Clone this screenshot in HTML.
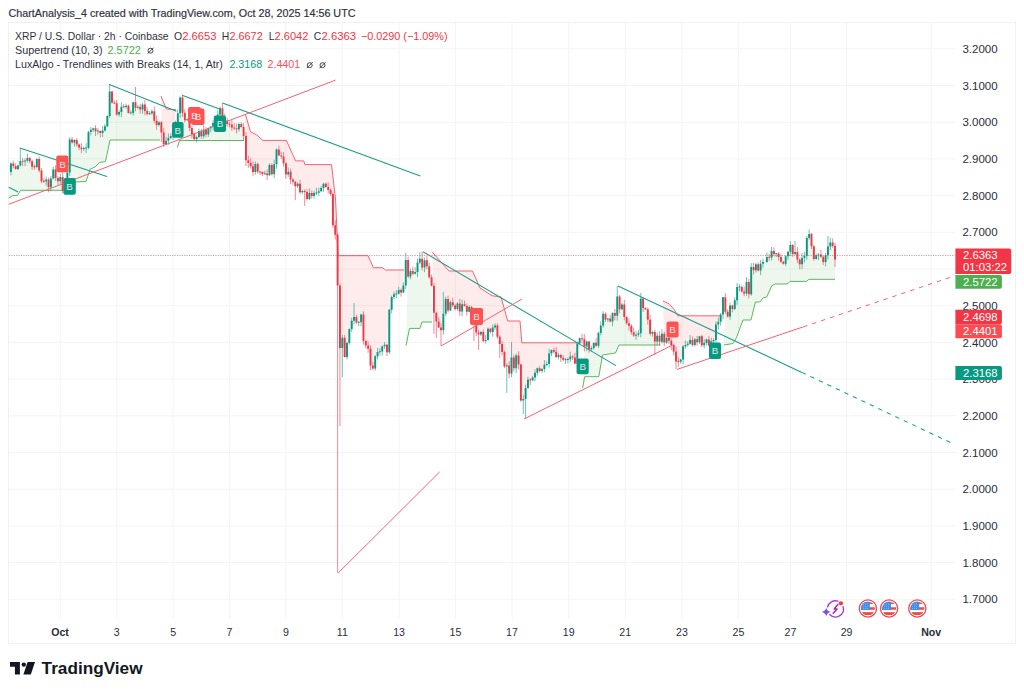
<!DOCTYPE html><html><head><meta charset="utf-8"><style>html,body{margin:0;padding:0;background:#fff;width:1024px;height:694px;overflow:hidden}svg{position:absolute;left:0;top:0}text{font-family:"Liberation Sans",sans-serif}.d{stroke:currentColor;stroke-width:0.18}</style></head><body>
<svg width="1024" height="694" viewBox="0 0 1024 694">
<text class="d" color="#2f323c" x="8.5" y="17.2" font-size="10.4" fill="#2f323c" textLength="347" lengthAdjust="spacingAndGlyphs">ChartAnalysis_4 created with TradingView.com, Oct 28, 2025 14:56 UTC</text>
<rect x="8.5" y="22.5" width="1007" height="621" fill="none" stroke="#eff0f3" stroke-width="1"/>
<path d="M9 48.8H955.5 M9 85.5H955.5 M9 122.2H955.5 M9 158.9H955.5 M9 195.6H955.5 M9 232.3H955.5 M9 269.0H955.5 M9 305.7H955.5 M9 342.4H955.5 M9 379.1H955.5 M9 415.8H955.5 M9 452.5H955.5 M9 489.2H955.5 M9 525.9H955.5 M9 562.6H955.5 M9 599.3H955.5 M60.3 23V618.5 M116.7 23V618.5 M173.1 23V618.5 M229.5 23V618.5 M285.9 23V618.5 M342.3 23V618.5 M399.1 23V618.5 M455.5 23V618.5 M512.0 23V618.5 M568.7 23V618.5 M625.2 23V618.5 M682.0 23V618.5 M738.5 23V618.5 M790.4 23V618.5 M846.6 23V618.5 M931.2 23V618.5" stroke="#f3f4f6" stroke-width="1" fill="none"/>
<polygon points="8.7,198.0 12.7,195.6 17.4,195.6 20.6,190.3 72.6,190.3 75.5,182.0 86.0,181.5 90.3,169.0 95.0,167.0 99.5,162.5 105.5,161.5 110.0,140.0 160.0,140.0 159.0,123.7 156.6,122.9 154.3,115.9 151.9,112.2 149.6,113.7 147.2,112.6 144.9,107.7 142.5,107.0 140.2,108.2 137.8,107.3 135.5,105.1 133.1,107.6 130.8,112.9 128.4,109.4 126.1,106.3 123.7,106.8 121.4,109.4 119.0,113.3 116.7,108.9 114.3,102.9 112.0,97.0 109.6,103.8 107.3,121.1 104.9,128.3 102.6,131.7 100.2,131.9 97.9,131.0 95.5,129.7 93.2,129.0 90.8,130.9 88.5,139.9 86.1,147.9 83.8,148.5 81.4,148.3 79.1,146.0 76.7,142.2 74.4,141.3 72.0,141.1 69.7,156.0 67.3,178.5 65.0,187.6 62.6,183.9 60.3,179.2 57.9,179.6 55.6,173.6 53.2,173.9 50.9,182.9 48.5,183.4 46.2,180.4 43.8,181.3 41.5,175.9 39.1,164.8 36.8,162.9 34.4,166.8 32.1,164.0 29.7,159.6 27.4,159.3 25.0,161.0 22.7,161.2 20.3,163.2 18.0,167.2 15.6,167.6 13.3,164.8 10.9,167.8" fill="rgba(76,175,80,0.10)"/>
<polygon points="161.0,96.0 166.3,109.0 176.0,109.7 175.4,126.9 173.1,133.3 170.7,137.0 168.4,139.4 166.0,142.5 163.7,138.3 161.3,127.3" fill="rgba(242,54,69,0.10)"/>
<polygon points="177.4,147.5 179.5,140.5 244.0,140.5 243.6,131.4 241.2,125.4 238.9,126.5 236.5,128.8 234.2,127.9 231.8,125.9 229.5,124.3 227.1,122.3 224.8,119.4 222.4,113.3 220.1,111.3 217.7,117.4 215.4,121.6 213.0,124.7 210.7,127.4 208.3,131.3 206.0,132.1 203.6,133.0 201.3,133.6 198.9,134.0 196.6,138.0 194.2,136.5 191.9,131.0 189.5,123.7 187.2,119.8 184.8,116.5 182.5,105.2 180.1,105.4 177.8,118.1" fill="rgba(76,175,80,0.10)"/>
<polygon points="245.4,114.3 250.5,131.8 256.7,134.9 262.8,140.4 286.4,140.4 295.6,160.9 303.8,160.9 304.9,164.6 331.5,164.6 335.6,200.0 338.0,255.7 368.0,255.7 373.4,267.7 382.5,267.7 385.5,270.0 404.0,270.0 403.4,289.0 401.1,291.4 398.7,291.9 396.4,294.0 394.0,295.7 391.7,303.4 389.3,330.9 387.0,348.5 384.6,345.5 382.3,348.8 379.9,351.8 377.6,354.1 375.2,362.3 372.9,367.0 370.5,357.1 368.2,347.1 365.8,343.3 363.5,327.8 361.1,318.5 358.8,322.3 356.4,319.8 354.1,319.0 351.7,325.0 349.4,336.0 347.0,350.0 344.7,347.4 342.3,342.8 340.0,316.7 337.6,260.1 335.2,230.0 332.9,209.6 330.5,192.0 328.2,188.5 325.8,185.3 323.5,185.8 321.1,189.6 318.8,192.0 316.4,193.0 314.1,194.5 311.7,194.4 309.4,196.0 307.0,195.4 304.7,191.5 302.3,191.6 300.0,188.0 297.6,184.9 295.3,184.0 292.9,180.6 290.6,175.5 288.2,173.1 285.9,168.9 283.5,159.9 281.2,156.0 278.8,152.5 276.5,156.8 274.1,169.2 271.8,169.6 269.4,170.1 267.1,174.3 264.7,173.7 262.4,173.1 260.0,171.9 257.7,167.8 255.3,167.9 253.0,169.1 250.6,164.7 248.3,161.6 245.9,148.0" fill="rgba(242,54,69,0.10)"/>
<polygon points="406.0,345.7 409.5,328.4 420.0,328.4 422.0,322.0 432.0,322.0 431.6,281.5 429.3,271.8 426.9,263.3 424.6,263.8 422.2,263.1 419.9,260.7 417.5,267.3 415.2,272.9 412.8,272.4 410.5,273.8 408.1,268.3" fill="rgba(76,175,80,0.10)"/>
<polygon points="432.0,251.7 449.0,271.0 472.5,271.0 480.0,288.0 492.0,295.7 501.0,297.0 507.7,321.0 520.0,321.0 521.8,342.8 579.6,342.8 577.3,353.5 575.0,360.5 572.6,357.0 570.3,357.9 567.9,359.5 565.6,359.7 563.2,358.8 560.9,356.5 558.5,356.0 556.2,354.3 553.8,350.8 551.5,351.7 549.1,358.7 546.8,364.4 544.4,366.9 542.1,369.9 539.7,369.6 537.4,370.5 535.0,375.2 532.7,378.9 530.3,380.0 528.0,383.9 525.6,393.5 523.3,399.7 520.9,382.6 518.6,360.1 516.2,361.9 513.9,362.8 511.5,365.5 509.2,369.5 506.8,365.9 504.5,359.2 502.1,347.9 499.8,340.4 497.4,331.2 495.1,326.6 492.7,329.9 490.4,330.5 488.0,334.4 485.7,340.5 483.3,336.5 481.0,333.3 478.6,333.6 476.3,326.8 473.9,317.5 471.6,310.5 469.2,309.3 466.9,308.9 464.5,305.1 462.2,308.0 459.8,307.5 457.5,306.2 455.1,307.1 452.8,303.8 450.4,306.3 448.1,304.6 445.7,306.3 443.4,322.0 441.0,328.9 438.7,324.5 436.3,317.1 434.0,299.2" fill="rgba(242,54,69,0.10)"/>
<polygon points="582.7,387.8 584.7,376.7 598.8,376.7 602.5,355.0 615.5,353.0 619.0,345.0 660.5,345.0 659.6,338.7 657.2,338.6 654.9,336.9 652.5,333.0 650.2,326.8 647.8,314.5 645.5,308.7 643.1,303.4 640.8,315.9 638.4,334.0 636.1,335.2 633.7,334.0 631.4,329.1 629.0,324.5 626.7,320.1 624.3,310.7 622.0,306.9 619.6,303.0 617.3,306.2 614.9,314.4 612.6,317.3 610.2,320.1 607.9,319.1 605.5,316.7 603.2,319.6 600.8,329.2 598.5,339.4 596.1,344.3 593.8,345.3 591.4,348.6 589.1,345.5 586.7,344.1 584.4,342.8" fill="rgba(76,175,80,0.10)"/>
<polygon points="663.0,301.0 669.0,303.7 674.3,309.8 677.8,315.8 721.0,315.8 720.7,318.1 718.3,323.2 716.0,332.3 713.6,340.6 711.3,343.3 708.9,342.4 706.6,341.2 704.2,344.2 701.9,340.8 699.5,339.3 697.2,340.7 694.8,342.1 692.5,342.5 690.1,341.8 687.8,344.4 685.4,345.8 683.1,353.0 680.7,360.7 678.4,361.6 676.0,356.4 673.7,348.2 671.3,342.9 669.0,339.5 666.6,340.2 664.3,338.0" fill="rgba(242,54,69,0.10)"/>
<polygon points="724.0,345.0 733.0,343.5 736.5,337.5 743.0,320.0 751.0,320.0 755.4,302.0 759.8,302.0 763.2,297.8 766.7,297.0 771.8,285.7 775.3,284.0 787.4,284.0 790.0,281.4 806.4,281.4 809.0,279.3 835.0,279.3 835.0,252.6 832.6,244.2 830.3,244.5 827.9,250.8 825.6,258.5 823.2,259.4 820.9,255.6 818.5,254.9 816.2,257.2 813.8,252.7 811.5,240.2 809.1,236.1 806.8,247.0 804.4,256.8 802.1,261.0 799.7,261.9 797.4,255.6 795.0,253.0 792.7,249.5 790.3,248.3 788.0,254.0 785.6,260.0 783.3,262.7 780.9,259.4 778.6,255.2 776.2,253.7 773.9,252.4 771.5,254.2 769.2,257.2 766.8,259.4 763.0,262.8 760.6,267.1 758.3,267.4 755.9,267.3 753.6,268.7 751.2,280.7 748.9,288.2 746.5,287.8 744.2,292.5 741.8,289.2 739.5,287.0 737.1,293.7 734.8,304.6 732.4,307.3 730.1,311.0 727.7,314.1 725.4,304.5" fill="rgba(76,175,80,0.10)"/>
<polyline points="8.7,198.0 12.7,195.6 17.4,195.6 20.6,190.3 72.6,190.3 75.5,182.0 86.0,181.5 90.3,169.0 95.0,167.0 99.5,162.5 105.5,161.5 110.0,140.0 160.0,140.0" fill="none" stroke="#5cb860" stroke-width="1"/>
<polyline points="161.0,96.0 166.3,109.0 176.0,109.7" fill="none" stroke="#f5636f" stroke-width="1"/>
<polyline points="177.4,147.5 179.5,140.5 244.0,140.5" fill="none" stroke="#5cb860" stroke-width="1"/>
<polyline points="245.4,114.3 250.5,131.8 256.7,134.9 262.8,140.4 286.4,140.4 295.6,160.9 303.8,160.9 304.9,164.6 331.5,164.6 335.6,200.0 338.0,255.7 368.0,255.7 373.4,267.7 382.5,267.7 385.5,270.0 404.0,270.0" fill="none" stroke="#f5636f" stroke-width="1"/>
<polyline points="406.0,345.7 409.5,328.4 420.0,328.4 422.0,322.0 432.0,322.0" fill="none" stroke="#5cb860" stroke-width="1"/>
<polyline points="432.0,251.7 449.0,271.0 472.5,271.0 480.0,288.0 492.0,295.7 501.0,297.0 507.7,321.0 520.0,321.0 521.8,342.8 579.6,342.8" fill="none" stroke="#f5636f" stroke-width="1"/>
<polyline points="582.7,387.8 584.7,376.7 598.8,376.7 602.5,355.0 615.5,353.0 619.0,345.0 660.5,345.0" fill="none" stroke="#5cb860" stroke-width="1"/>
<polyline points="663.0,301.0 669.0,303.7 674.3,309.8 677.8,315.8 721.0,315.8" fill="none" stroke="#f5636f" stroke-width="1"/>
<polyline points="724.0,345.0 733.0,343.5 736.5,337.5 743.0,320.0 751.0,320.0 755.4,302.0 759.8,302.0 763.2,297.8 766.7,297.0 771.8,285.7 775.3,284.0 787.4,284.0 790.0,281.4 806.4,281.4 809.0,279.3 835.0,279.3" fill="none" stroke="#5cb860" stroke-width="1"/>
<path d="M13.30 160.7V168.2 M15.65 163.3V169.7 M22.70 157.7V166.1 M29.75 156.9V163.2 M32.10 160.0V169.8 M34.45 164.5V169.9 M39.15 156.5V172.5 M41.50 168.1V183.1 M43.85 177.6V183.0 M48.55 177.6V192.3 M55.60 165.4V181.0 M57.95 176.0V185.0 M62.65 172.3V193.4 M72.05 137.0V143.8 M76.75 138.3V146.7 M79.10 143.6V150.2 M81.45 143.2V153.1 M95.55 125.2V136.0 M100.25 130.2V137.5 M112.00 91.1V103.7 M114.35 100.3V103.9 M116.70 100.0V115.7 M123.75 104.1V107.8 M128.45 104.5V113.6 M135.50 87.0V111.4 M140.20 103.8V113.7 M144.90 100.1V115.2 M147.25 107.2V115.6 M154.30 106.4V123.2 M156.65 115.7V129.8 M161.35 120.9V142.0 M163.70 128.1V146.8 M182.50 95.5V117.0 M184.85 109.3V122.2 M189.55 115.9V131.0 M191.90 125.7V138.4 M194.25 132.5V140.7 M201.30 128.9V138.9 M206.00 127.0V137.3 M222.45 103.0V121.4 M224.80 113.7V123.0 M227.15 117.8V126.8 M229.50 121.5V127.4 M231.85 119.7V131.0 M234.20 122.6V130.1 M236.55 123.7V133.5 M241.25 122.3V127.7 M243.60 122.9V140.5 M245.95 132.2V166.0 M248.30 155.7V167.9 M250.65 158.3V168.6 M253.00 161.4V176.1 M257.70 162.5V173.7 M260.05 171.2V175.1 M262.40 171.5V176.1 M267.10 169.3V180.1 M271.80 163.3V175.3 M278.85 145.8V156.3 M281.20 151.8V159.0 M283.55 151.9V166.6 M285.90 162.4V178.9 M290.60 168.7V184.0 M292.95 178.3V184.7 M295.30 180.9V200.0 M300.00 179.8V194.0 M304.70 189.4V206.0 M307.05 188.9V200.4 M311.75 190.5V198.6 M325.85 182.4V187.8 M328.20 182.5V193.5 M330.55 188.4V195.8 M332.90 192.7V227.7 M335.25 220.4V239.6 M337.60 233.1V573.0 M339.95 283.3V426.0 M344.65 334.9V357.6 M356.40 314.9V324.4 M363.45 311.3V344.7 M365.80 339.8V348.5 M368.15 341.4V352.8 M370.50 345.5V370.0 M372.85 361.8V370.0 M386.95 344.0V356.0 M401.05 288.5V296.5 M408.10 256.5V278.4 M412.80 266.5V275.2 M422.20 251.7V270.5 M426.90 256.0V269.1 M429.25 262.7V278.8 M431.60 274.5V286.4 M433.95 283.1V334.0 M436.30 311.5V338.0 M438.65 317.3V328.0 M441.00 323.2V346.0 M448.05 295.7V312.5 M452.75 297.9V307.2 M455.10 303.8V310.5 M459.80 299.0V315.8 M464.50 300.6V306.7 M466.85 303.4V315.7 M471.55 305.8V316.7 M473.90 312.2V341.0 M476.25 319.4V336.0 M478.60 329.5V350.0 M483.30 329.3V342.4 M490.35 327.8V333.7 M497.40 323.3V338.8 M499.75 335.1V358.0 M502.10 341.2V355.3 M504.45 350.5V368.2 M509.15 361.1V378.0 M513.85 354.7V371.3 M518.55 351.3V369.5 M520.90 363.6V401.8 M530.30 378.2V385.0 M539.70 366.0V372.5 M553.80 347.6V353.4 M556.15 347.0V358.4 M560.85 353.7V361.9 M563.20 355.1V361.2 M572.60 354.9V360.0 M574.95 352.8V364.6 M582.00 333.8V343.5 M584.35 334.1V351.3 M589.05 341.0V352.8 M596.10 338.0V346.8 M605.50 312.4V321.7 M610.20 314.7V322.3 M614.90 309.1V320.3 M619.60 295.0V313.0 M624.30 299.8V320.3 M626.65 316.3V324.8 M629.00 318.5V330.6 M631.35 324.1V334.8 M633.70 327.7V337.0 M643.10 297.2V312.0 M645.45 307.3V309.9 M647.80 307.3V324.7 M650.15 314.9V335.5 M654.85 329.6V355.0 M659.55 331.3V345.2 M664.25 331.5V346.2 M668.95 333.6V343.9 M671.30 338.5V350.0 M673.65 343.5V355.5 M676.00 346.4V369.0 M678.35 357.2V367.0 M692.45 336.6V346.6 M697.15 336.0V345.7 M701.85 335.0V347.2 M708.90 336.1V346.3 M725.35 293.1V314.0 M727.70 309.1V317.7 M732.40 304.6V312.3 M741.80 285.5V292.5 M744.15 286.6V296.3 M748.85 278.7V298.5 M753.55 262.8V274.5 M758.25 262.1V271.6 M769.20 253.9V260.8 M773.90 247.5V256.4 M778.60 252.0V260.8 M780.95 254.3V263.1 M783.30 260.8V264.7 M792.70 244.1V256.8 M797.40 246.9V263.2 M799.75 258.0V269.3 M811.50 232.9V249.1 M813.85 244.9V260.7 M820.90 249.9V258.0 M823.25 255.7V265.0 M832.65 238.4V247.6 M835.00 242.8V267.0" stroke="#f23645" stroke-width="0.8" stroke-opacity="0.75" fill="none"/>
<path d="M10.95 162.4V175.4 M18.00 164.6V170.0 M20.35 148.0V166.5 M25.05 158.4V166.2 M27.40 153.6V162.5 M36.80 158.2V168.3 M46.20 176.5V185.8 M50.90 176.0V191.2 M53.25 166.7V179.0 M60.30 174.0V183.9 M65.00 183.7V194.4 M67.35 167.5V188.7 M69.70 137.3V175.9 M74.40 139.2V146.5 M83.80 146.4V151.2 M86.15 143.2V153.0 M88.50 130.8V149.2 M90.85 127.1V135.3 M93.20 127.7V132.1 M97.90 128.1V134.5 M102.60 126.0V137.1 M104.95 123.9V131.4 M107.30 115.3V127.0 M109.65 84.0V118.1 M119.05 110.1V116.7 M121.40 102.4V117.1 M126.10 103.7V108.6 M130.80 110.0V114.2 M133.15 101.7V115.7 M137.85 104.6V109.1 M142.55 102.9V113.8 M149.60 111.1V114.7 M151.95 109.4V114.9 M159.00 120.8V126.6 M166.05 136.7V145.1 M168.40 133.5V144.8 M170.75 133.3V139.3 M173.10 128.8V140.0 M175.45 120.7V133.1 M177.80 109.5V124.2 M180.15 96.4V117.8 M187.20 118.3V120.7 M196.60 135.4V142.2 M198.95 128.6V138.0 M203.65 125.2V138.7 M208.35 127.6V136.9 M210.70 126.0V132.3 M213.05 120.3V130.3 M215.40 118.3V125.8 M217.75 110.4V121.3 M220.10 106.6V116.2 M238.90 122.8V131.7 M255.35 161.4V174.7 M264.75 170.6V174.9 M269.45 163.3V175.9 M274.15 159.6V178.4 M276.50 148.3V168.8 M288.25 167.3V177.1 M297.65 182.3V188.1 M302.35 189.8V194.3 M309.40 188.3V200.0 M314.10 190.8V198.7 M316.45 187.9V195.2 M318.80 187.6V196.2 M321.15 185.9V192.0 M323.50 182.9V191.8 M342.30 335.0V377.0 M347.00 342.0V359.4 M349.35 328.5V344.7 M351.70 317.7V332.0 M354.05 303.0V324.5 M358.75 321.1V326.2 M361.10 313.9V326.5 M375.20 355.1V370.6 M377.55 347.9V359.2 M379.90 348.1V355.7 M382.25 345.6V355.5 M384.60 342.1V349.1 M389.30 308.8V353.9 M391.65 295.7V313.5 M394.00 291.6V299.3 M396.35 290.2V298.2 M398.70 286.7V294.6 M403.40 282.4V293.2 M405.75 253.0V289.0 M410.45 268.5V279.2 M415.15 267.3V274.3 M417.50 258.4V276.9 M419.85 252.0V264.1 M424.55 257.4V272.2 M443.35 292.0V334.8 M445.70 296.7V316.1 M450.40 300.4V311.1 M457.45 302.1V311.0 M462.15 299.7V316.3 M469.20 305.1V312.5 M480.95 330.9V336.0 M485.65 335.0V343.5 M488.00 327.4V340.9 M492.70 324.5V336.6 M495.05 323.2V329.9 M506.80 363.1V393.0 M511.50 342.0V377.3 M516.20 353.4V372.9 M523.25 395.3V414.0 M525.60 384.7V419.0 M527.95 376.7V388.8 M532.65 375.7V381.4 M535.00 369.4V381.2 M537.35 367.5V375.6 M542.05 368.3V372.8 M544.40 360.0V372.3 M546.75 361.3V366.4 M549.10 348.7V367.6 M551.45 349.4V356.3 M558.50 353.1V359.3 M565.55 357.8V363.9 M567.90 357.8V363.6 M570.25 351.6V362.0 M577.30 342.1V368.3 M579.65 337.6V344.4 M586.70 340.3V351.3 M591.40 345.7V351.3 M593.75 342.3V349.7 M598.45 331.5V347.9 M600.80 321.2V335.4 M603.15 311.2V327.6 M607.85 318.0V322.0 M612.55 312.2V326.2 M617.25 286.0V320.6 M621.95 302.7V309.8 M636.05 331.0V339.8 M638.40 330.0V336.8 M640.75 293.0V337.3 M652.50 331.2V336.6 M657.20 332.4V345.2 M661.90 329.4V343.5 M666.60 336.5V344.0 M680.70 358.8V363.7 M683.05 345.1V364.4 M685.40 340.4V348.6 M687.75 341.2V346.8 M690.10 335.1V344.7 M694.80 338.0V346.5 M699.50 335.8V344.2 M704.20 339.0V348.3 M706.55 338.5V345.3 M711.25 337.6V347.7 M713.60 338.2V346.0 M715.95 321.6V342.2 M718.30 317.4V329.6 M720.65 313.1V325.6 M723.00 296.8V319.0 M730.05 302.6V319.9 M734.75 297.5V310.2 M737.10 283.0V304.9 M739.45 284.2V291.3 M746.50 277.3V295.9 M751.20 263.1V295.8 M755.90 262.8V272.5 M760.60 260.0V275.1 M762.95 258.8V267.6 M766.85 252.6V262.9 M771.55 247.0V260.6 M776.25 253.0V257.2 M785.65 255.4V266.1 M788.00 251.1V259.7 M790.35 241.1V255.8 M795.05 241.0V255.2 M802.10 252.9V269.0 M804.45 251.8V262.4 M806.80 236.0V259.8 M809.15 229.5V239.8 M816.20 253.4V259.7 M818.55 253.2V260.0 M825.60 252.9V266.5 M827.95 236.0V259.5 M830.30 237.5V250.0" stroke="#089981" stroke-width="0.8" stroke-opacity="0.75" fill="none"/>
<path d="M13.30 163.6V166.1 M15.65 166.1V169.1 M22.70 160.7V161.7 M29.75 157.9V161.3 M32.10 161.3V166.7 M34.45 166.3V167.3 M39.15 158.9V170.6 M41.50 170.6V181.3 M43.85 180.8V181.8 M48.55 179.4V187.3 M55.60 169.4V177.9 M57.95 177.9V181.3 M62.65 177.1V190.8 M72.05 139.5V142.6 M76.75 140.0V144.4 M79.10 144.4V147.6 M81.45 147.6V148.9 M95.55 128.3V131.2 M100.25 130.9V133.0 M112.00 91.6V102.5 M114.35 102.4V103.4 M116.70 103.3V114.5 M123.75 106.3V107.3 M128.45 105.7V113.0 M135.50 102.3V107.8 M140.20 106.7V109.6 M144.90 104.4V111.1 M147.25 111.1V114.1 M154.30 111.2V120.7 M156.65 120.7V125.0 M161.35 122.3V132.4 M163.70 132.4V144.2 M182.50 97.6V112.8 M184.85 112.8V120.2 M189.55 119.4V128.1 M191.90 128.1V134.0 M194.25 134.0V139.1 M201.30 131.0V136.3 M206.00 129.8V134.4 M222.45 108.2V118.3 M224.80 118.3V120.5 M227.15 120.5V124.0 M229.50 123.8V124.8 M231.85 124.5V127.4 M234.20 127.4V128.5 M236.55 128.3V129.3 M241.25 123.9V126.9 M243.60 126.9V135.9 M245.95 135.9V160.2 M248.30 160.2V163.1 M250.65 163.1V166.3 M253.00 166.3V171.9 M257.70 163.9V171.8 M260.05 171.4V172.4 M262.40 172.1V174.1 M267.10 173.4V175.2 M271.80 165.0V174.2 M278.85 149.5V155.4 M281.20 155.4V156.6 M283.55 156.6V163.3 M285.90 163.3V174.5 M290.60 171.7V179.4 M292.95 179.4V181.8 M295.30 181.8V186.2 M300.00 183.7V192.2 M304.70 191.0V192.0 M307.05 191.9V199.0 M311.75 193.0V195.9 M325.85 183.7V187.0 M328.20 187.0V190.0 M330.55 190.0V193.9 M332.90 193.9V225.2 M335.25 225.2V234.7 M337.60 234.7V285.4 M339.95 285.4V347.9 M344.65 337.7V357.1 M356.40 317.1V322.4 M363.45 314.6V340.9 M365.80 340.9V345.6 M368.15 345.6V348.7 M370.50 348.7V365.4 M372.85 365.4V368.5 M386.95 344.8V352.2 M401.05 290.1V292.6 M408.10 260.0V276.6 M412.80 271.1V273.8 M422.20 258.8V267.4 M426.90 260.2V266.3 M429.25 266.3V277.2 M431.60 277.2V285.8 M433.95 285.8V312.7 M436.30 312.7V321.6 M438.65 321.6V327.5 M441.00 327.5V330.3 M448.05 298.9V310.4 M452.75 302.2V305.4 M455.10 305.4V308.9 M459.80 303.5V311.6 M464.50 304.3V305.9 M466.85 305.9V311.8 M471.55 306.9V314.0 M473.90 314.0V321.0 M476.25 321.0V332.5 M478.60 332.5V334.6 M483.30 332.1V341.0 M490.35 328.8V332.1 M497.40 325.5V336.8 M499.75 336.8V343.9 M502.10 343.9V352.0 M504.45 352.0V366.4 M509.15 365.4V373.6 M513.85 357.4V368.2 M518.55 355.6V364.6 M520.90 364.6V400.6 M530.30 379.5V380.5 M539.70 368.3V370.9 M553.80 350.0V351.7 M556.15 351.7V356.9 M560.85 355.1V357.8 M563.20 357.8V359.8 M572.60 356.4V357.6 M574.95 357.6V363.5 M582.00 338.2V339.2 M584.35 339.0V346.6 M589.05 341.6V349.3 M596.10 342.8V345.8 M605.50 313.8V319.6 M610.20 318.6V321.6 M614.90 313.0V315.8 M619.60 296.6V309.3 M624.30 304.4V316.9 M626.65 316.9V323.3 M629.00 323.3V325.8 M631.35 325.8V332.3 M633.70 332.3V335.6 M643.10 298.6V308.1 M645.45 308.1V309.2 M647.80 309.2V319.8 M650.15 319.8V333.8 M654.85 332.1V341.6 M659.55 335.7V341.7 M664.25 333.7V342.4 M668.95 338.1V340.8 M671.30 340.8V345.0 M673.65 345.0V351.4 M676.00 351.4V361.4 M678.35 361.1V362.1 M692.45 339.9V345.1 M697.15 339.2V342.3 M701.85 336.3V345.3 M708.90 339.4V345.4 M725.35 297.3V311.7 M727.70 311.7V316.5 M732.40 305.5V309.0 M741.80 286.9V291.5 M744.15 291.5V293.6 M748.85 282.0V294.3 M753.55 267.1V270.2 M758.25 264.3V270.5 M769.20 256.7V257.7 M773.90 250.9V253.9 M778.60 253.6V256.9 M780.95 256.9V261.8 M783.30 261.8V263.7 M792.70 244.9V254.1 M797.40 251.9V259.4 M799.75 259.4V264.3 M811.50 234.1V246.3 M813.85 246.3V259.0 M820.90 254.5V256.8 M823.25 256.8V262.1 M832.65 242.4V245.9 M835.00 245.9V259.4" stroke="#f23645" stroke-width="1.9" fill="none"/>
<path d="M10.95 163.6V172.0 M18.00 165.4V169.1 M20.35 161.0V165.4 M25.05 160.5V161.5 M27.40 157.9V160.7 M36.80 158.9V166.9 M46.20 179.4V181.4 M50.90 178.4V187.3 M53.25 169.4V178.4 M60.30 177.1V181.3 M65.00 184.5V190.8 M67.35 172.4V184.5 M69.70 139.5V172.4 M74.40 140.0V142.6 M83.80 148.0V149.0 M86.15 147.4V148.4 M88.50 132.1V147.7 M90.85 129.8V132.1 M93.20 128.3V129.8 M97.90 130.5V131.5 M102.60 130.4V133.0 M104.95 126.2V130.4 M107.30 116.1V126.2 M109.65 91.6V116.1 M119.05 112.1V114.5 M121.40 106.7V112.1 M126.10 105.7V106.9 M130.80 112.4V113.4 M133.15 102.3V112.9 M137.85 106.7V107.8 M142.55 104.4V109.6 M149.60 113.2V114.2 M151.95 111.2V113.2 M159.00 122.3V125.0 M166.05 140.8V144.2 M168.40 138.0V140.8 M170.75 135.9V138.0 M173.10 130.8V135.9 M175.45 123.0V130.8 M177.80 113.2V123.0 M180.15 97.6V113.2 M187.20 119.3V120.3 M196.60 136.9V139.1 M198.95 131.0V136.9 M203.65 129.8V136.3 M208.35 128.2V134.4 M210.70 126.5V128.2 M213.05 123.0V126.5 M215.40 120.3V123.0 M217.75 114.4V120.3 M220.10 108.2V114.4 M238.90 123.9V129.2 M255.35 163.9V171.9 M264.75 173.2V174.2 M269.45 165.0V175.2 M274.15 164.2V174.2 M276.50 149.5V164.2 M288.25 171.7V174.5 M297.65 183.7V186.2 M302.35 191.1V192.2 M309.40 193.0V199.0 M314.10 193.1V195.9 M316.45 192.5V193.5 M318.80 191.3V192.8 M321.15 187.9V191.3 M323.50 183.7V187.9 M342.30 337.7V347.9 M347.00 342.9V357.1 M349.35 329.1V342.9 M351.70 320.8V329.1 M354.05 317.1V320.8 M358.75 321.8V322.8 M361.10 314.6V322.3 M375.20 356.2V368.5 M377.55 352.1V356.2 M379.90 351.3V352.3 M382.25 346.2V351.4 M384.60 344.8V346.2 M389.30 309.7V352.2 M391.65 297.1V309.7 M394.00 294.3V297.1 M396.35 293.5V294.5 M398.70 290.1V293.7 M403.40 285.4V292.6 M405.75 260.0V285.4 M410.45 271.1V276.6 M415.15 272.0V273.8 M417.50 262.6V272.0 M419.85 258.8V262.6 M424.55 260.2V267.4 M443.35 313.8V330.3 M445.70 298.9V313.8 M450.40 302.2V310.4 M457.45 303.5V308.9 M462.15 304.3V311.6 M469.20 306.9V311.8 M480.95 332.1V334.6 M485.65 340.0V341.0 M488.00 328.8V340.0 M492.70 327.6V332.1 M495.05 325.5V327.6 M506.80 365.4V366.4 M511.50 357.4V373.6 M516.20 355.6V368.2 M523.25 398.9V400.6 M525.60 388.1V398.9 M527.95 379.7V388.1 M532.65 377.5V380.3 M535.00 372.8V377.5 M537.35 368.3V372.8 M542.05 368.9V370.9 M544.40 364.8V368.9 M546.75 363.9V364.9 M549.10 353.5V364.0 M551.45 350.0V353.5 M558.50 355.1V356.9 M565.55 359.2V360.2 M567.90 359.0V360.0 M570.25 356.4V359.3 M577.30 343.6V363.5 M579.65 338.3V343.6 M586.70 341.6V346.6 M591.40 347.9V349.3 M593.75 342.8V347.9 M598.45 333.0V345.8 M600.80 325.4V333.0 M603.15 313.8V325.4 M607.85 318.6V319.6 M612.55 313.0V321.6 M617.25 296.6V315.8 M621.95 304.4V309.3 M636.05 334.7V335.7 M638.40 333.3V334.8 M640.75 298.6V333.3 M652.50 332.1V333.8 M657.20 335.7V341.6 M661.90 333.7V341.7 M666.60 338.1V342.4 M680.70 359.5V361.8 M683.05 346.4V359.5 M685.40 345.1V346.4 M687.75 343.7V345.1 M690.10 339.9V343.7 M694.80 339.2V345.1 M699.50 336.3V342.3 M704.20 343.0V345.3 M706.55 339.4V343.0 M711.25 341.2V345.4 M713.60 340.0V341.2 M715.95 324.6V340.0 M718.30 321.8V324.6 M720.65 314.4V321.8 M723.00 297.3V314.4 M730.05 305.5V316.5 M734.75 300.3V309.0 M737.10 287.1V300.3 M739.45 286.5V287.5 M746.50 282.0V293.6 M751.20 267.1V294.3 M755.90 264.3V270.2 M760.60 263.7V270.5 M762.95 261.9V263.7 M766.85 256.9V261.9 M771.55 250.9V257.5 M776.25 253.2V254.2 M785.65 256.3V263.7 M788.00 251.8V256.3 M790.35 244.9V251.8 M795.05 251.9V254.1 M802.10 257.7V264.3 M804.45 255.9V257.7 M806.80 238.1V255.9 M809.15 234.1V238.1 M816.20 255.3V259.0 M818.55 254.4V255.4 M825.60 255.0V262.1 M827.95 246.6V255.0 M830.30 242.4V246.6" stroke="#089981" stroke-width="1.9" fill="none"/>
<line x1="8.7" y1="187.3" x2="18.2" y2="192" stroke="#1f9c8c" stroke-width="1.05"/>
<line x1="19.8" y1="148" x2="107" y2="176.6" stroke="#1f9c8c" stroke-width="1.05"/>
<line x1="109.4" y1="84.5" x2="176.4" y2="111.2" stroke="#1f9c8c" stroke-width="1.05"/>
<line x1="182" y1="95.3" x2="219.6" y2="109" stroke="#1f9c8c" stroke-width="1.05"/>
<line x1="222.5" y1="103" x2="420.3" y2="175.9" stroke="#1f9c8c" stroke-width="1.05"/>
<line x1="423" y1="251.7" x2="616" y2="365.6" stroke="#1f9c8c" stroke-width="1.05"/>
<line x1="618" y1="286" x2="801.8" y2="372.4" stroke="#1f9c8c" stroke-width="1.05"/>
<line x1="8.7" y1="204.3" x2="335.6" y2="80.1" stroke="#f5636f" stroke-width="1.0"/>
<line x1="441" y1="346" x2="522" y2="299" stroke="#f5636f" stroke-width="1.0"/>
<line x1="338.2" y1="573" x2="439.6" y2="472" stroke="#f5636f" stroke-width="1.0"/>
<line x1="524" y1="419" x2="672.6" y2="345" stroke="#f5636f" stroke-width="1.0"/>
<line x1="677" y1="369.4" x2="803.2" y2="326.9" stroke="#f5636f" stroke-width="1.0"/>
<line x1="801.8" y1="372.4" x2="954.5" y2="444.4" stroke="#1f9c8c" stroke-width="1.05" stroke-dasharray="4.4 5"/>
<line x1="803.2" y1="326.9" x2="954.5" y2="275.9" stroke="#f5636f" stroke-width="1.0" stroke-dasharray="4.4 5"/>
<line x1="9" y1="255.6" x2="955" y2="255.6" stroke="#f23645" stroke-width="0.8" stroke-dasharray="1.1 1.3" opacity="0.85"/>
<rect x="56.3" y="155.5" width="12.2" height="16.8" rx="2" fill="#ff5252"/>
<text x="62.4" y="167.5" font-size="9.8" fill="#fff" fill-opacity="0.86" text-anchor="middle">B</text>
<rect x="63.4" y="178" width="12.4" height="16.8" rx="2" fill="#089981"/>
<text x="69.6" y="190.0" font-size="9.8" fill="#fff" fill-opacity="0.86" text-anchor="middle">B</text>
<rect x="172" y="122" width="11.6" height="15.8" rx="2" fill="#089981"/>
<text x="177.8" y="133.5" font-size="9.8" fill="#fff" fill-opacity="0.86" text-anchor="middle">B</text>
<rect x="188" y="107" width="13" height="16.4" rx="2" fill="#ff5252"/><rect x="191.5" y="108.5" width="13" height="16.4" rx="2" fill="#ff5252"/>
<text x="194.5" y="119.2" font-size="9.8" fill="#fff" fill-opacity="0.86" text-anchor="middle">B</text><text x="198" y="120.4" font-size="9.8" fill="#fff" fill-opacity="0.86" text-anchor="middle">B</text>
<rect x="213.8" y="115.5" width="12.2" height="16.5" rx="2" fill="#089981"/>
<text x="219.9" y="127.35" font-size="9.8" fill="#fff" fill-opacity="0.86" text-anchor="middle">B</text>
<rect x="470" y="308" width="13" height="17" rx="2" fill="#ff5252"/>
<text x="476.5" y="320.1" font-size="9.8" fill="#fff" fill-opacity="0.86" text-anchor="middle">B</text>
<rect x="576.6" y="358.5" width="12.1" height="15.8" rx="2" fill="#089981"/>
<text x="582.65" y="370.0" font-size="9.8" fill="#fff" fill-opacity="0.86" text-anchor="middle">B</text>
<rect x="666.5" y="321.5" width="12.1" height="15.9" rx="2" fill="#ff5252"/>
<text x="672.55" y="333.05" font-size="9.8" fill="#fff" fill-opacity="0.86" text-anchor="middle">B</text>
<rect x="709" y="342.6" width="12" height="16.4" rx="2" fill="#089981"/>
<text x="715.0" y="354.40000000000003" font-size="9.8" fill="#fff" fill-opacity="0.86" text-anchor="middle">B</text>
<text x="15.10" y="39.7" font-size="10.4" fill="#2f323c" textLength="153.50" lengthAdjust="spacingAndGlyphs">XRP / U.S. Dollar · 2h · Coinbase</text>
<text x="173.90" y="39.7" font-size="10.4" fill="#2f323c" textLength="8.20" lengthAdjust="spacingAndGlyphs">O</text>
<text x="182.20" y="39.7" font-size="10.4" fill="#f23645" textLength="34.30" lengthAdjust="spacingAndGlyphs">2.6653</text>
<text x="221.80" y="39.7" font-size="10.4" fill="#2f323c" textLength="7.50" lengthAdjust="spacingAndGlyphs">H</text>
<text x="229.40" y="39.7" font-size="10.4" fill="#f23645" textLength="33.30" lengthAdjust="spacingAndGlyphs">2.6672</text>
<text x="268.70" y="39.7" font-size="10.4" fill="#2f323c" textLength="5.70" lengthAdjust="spacingAndGlyphs">L</text>
<text x="274.50" y="39.7" font-size="10.4" fill="#f23645" textLength="33.90" lengthAdjust="spacingAndGlyphs">2.6042</text>
<text x="313.80" y="39.7" font-size="10.4" fill="#2f323c" textLength="7.50" lengthAdjust="spacingAndGlyphs">C</text>
<text x="321.50" y="39.7" font-size="10.4" fill="#f23645" textLength="34.50" lengthAdjust="spacingAndGlyphs">2.6363</text>
<text x="361.00" y="39.7" font-size="10.4" fill="#f23645" textLength="86.50" lengthAdjust="spacingAndGlyphs">−0.0290 (−1.09%)</text>
<text x="15.10" y="53.7" font-size="10.4" fill="#2f323c" textLength="87.40" lengthAdjust="spacingAndGlyphs">Supertrend (10, 3)</text>
<text x="107.50" y="53.7" font-size="10.4" fill="#4caf50" textLength="33.30" lengthAdjust="spacingAndGlyphs">2.5722</text>
<g stroke="#3a3d45" stroke-width="0.95" fill="none"><circle cx="150.5" cy="50.7" r="2.5"/><path d="M147.5 53.7L153.5 47.7"/></g>
<text x="15.10" y="68.0" font-size="10.4" fill="#2f323c" textLength="207.70" lengthAdjust="spacingAndGlyphs">LuxAlgo - Trendlines with Breaks (14, 1, Atr)</text>
<text x="229.40" y="68.0" font-size="10.4" fill="#089981" textLength="32.70" lengthAdjust="spacingAndGlyphs">2.3168</text>
<text x="267.50" y="68.0" font-size="10.4" fill="#f7525f" textLength="32.70" lengthAdjust="spacingAndGlyphs">2.4401</text>
<g stroke="#3a3d45" stroke-width="0.95" fill="none"><circle cx="309.7" cy="65.2" r="2.5"/><path d="M306.7 68.2L312.7 62.2"/></g>
<g stroke="#3a3d45" stroke-width="0.95" fill="none"><circle cx="322.5" cy="65.2" r="2.5"/><path d="M319.5 68.2L325.5 62.2"/></g>
<text x="962.4" y="52.9" font-size="11.5" fill="#2a2e39">3.2000</text>
<text x="962.4" y="89.6" font-size="11.5" fill="#2a2e39">3.1000</text>
<text x="962.4" y="126.3" font-size="11.5" fill="#2a2e39">3.0000</text>
<text x="962.4" y="163.0" font-size="11.5" fill="#2a2e39">2.9000</text>
<text x="962.4" y="199.7" font-size="11.5" fill="#2a2e39">2.8000</text>
<text x="962.4" y="236.4" font-size="11.5" fill="#2a2e39">2.7000</text>
<text x="962.4" y="273.1" font-size="11.5" fill="#2a2e39">2.6000</text>
<text x="962.4" y="309.8" font-size="11.5" fill="#2a2e39">2.5000</text>
<text x="962.4" y="346.5" font-size="11.5" fill="#2a2e39">2.4000</text>
<text x="962.4" y="383.2" font-size="11.5" fill="#2a2e39">2.3000</text>
<text x="962.4" y="419.9" font-size="11.5" fill="#2a2e39">2.2000</text>
<text x="962.4" y="456.6" font-size="11.5" fill="#2a2e39">2.1000</text>
<text x="962.4" y="493.3" font-size="11.5" fill="#2a2e39">2.0000</text>
<text x="962.4" y="530.0" font-size="11.5" fill="#2a2e39">1.9000</text>
<text x="962.4" y="566.7" font-size="11.5" fill="#2a2e39">1.8000</text>
<text x="962.4" y="603.4" font-size="11.5" fill="#2a2e39">1.7000</text>
<path d="M955.4 248.6H1009.1999999999999q2 0 2 2V272.1q0 2 -2 2H955.4Z" fill="#f23645"/>
<text x="963" y="259.4" font-size="11.3" fill="#fff">2.6363</text>
<text x="963" y="271.2" font-size="11.3" fill="#fff">01:03:22</text>
<path d="M955.4 275H999.9q2 0 2 2V286.8q0 2 -2 2H955.4Z" fill="#4caf50"/>
<text x="963" y="285.9" font-size="11.3" fill="#fff">2.5722</text>
<path d="M955.4 309.8H999.9q2 0 2 2V322.3q0 2 -2 2H955.4Z" fill="#f23645"/>
<text x="963" y="321.05" font-size="11.3" fill="#fff">2.4698</text>
<path d="M955.4 324.3H999.9q2 0 2 2V336.3q0 2 -2 2H955.4Z" fill="#fd4b55"/>
<text x="963" y="335.3" font-size="11.3" fill="#fff">2.4401</text>
<path d="M955.4 366H999.9q2 0 2 2V378q0 2 -2 2H955.4Z" fill="#089981"/>
<text x="963" y="377.0" font-size="11.3" fill="#fff">2.3168</text>
<text x="60" y="636" font-size="10.6" fill="#2a2e39" text-anchor="middle" font-weight="bold">Oct</text>
<text x="116.7" y="636" font-size="10.6" fill="#2a2e39" text-anchor="middle">3</text>
<text x="173.1" y="636" font-size="10.6" fill="#2a2e39" text-anchor="middle">5</text>
<text x="229.5" y="636" font-size="10.6" fill="#2a2e39" text-anchor="middle">7</text>
<text x="285.9" y="636" font-size="10.6" fill="#2a2e39" text-anchor="middle">9</text>
<text x="342.3" y="636" font-size="10.6" fill="#2a2e39" text-anchor="middle">11</text>
<text x="399.1" y="636" font-size="10.6" fill="#2a2e39" text-anchor="middle">13</text>
<text x="455.5" y="636" font-size="10.6" fill="#2a2e39" text-anchor="middle">15</text>
<text x="512" y="636" font-size="10.6" fill="#2a2e39" text-anchor="middle">17</text>
<text x="568.7" y="636" font-size="10.6" fill="#2a2e39" text-anchor="middle">19</text>
<text x="625.2" y="636" font-size="10.6" fill="#2a2e39" text-anchor="middle">21</text>
<text x="682" y="636" font-size="10.6" fill="#2a2e39" text-anchor="middle">23</text>
<text x="738.5" y="636" font-size="10.6" fill="#2a2e39" text-anchor="middle">25</text>
<text x="790.4" y="636" font-size="10.6" fill="#2a2e39" text-anchor="middle">27</text>
<text x="846.6" y="636" font-size="10.6" fill="#2a2e39" text-anchor="middle">29</text>
<text x="931.2" y="636" font-size="10.6" fill="#2a2e39" text-anchor="middle" font-weight="bold">Nov</text>
<circle cx="867.9" cy="608.45" r="8.6" fill="#fff" stroke="#f0474f" stroke-width="1.3"/>
<clipPath id="f867"><circle cx="867.9" cy="608.45" r="7.0"/></clipPath><g clip-path="url(#f867)">
<rect x="860.4" y="602.25" width="15" height="1.8" fill="#ef4a4a"/>
<rect x="860.4" y="607.25" width="15" height="2.5" fill="#ef4a4a"/>
<rect x="860.4" y="612.1500000000001" width="15" height="2.9" fill="#ef4a4a"/>
<rect x="860.4" y="600.95" width="9.4" height="9.1" fill="#3f8fe8"/>
<circle cx="863.3" cy="604.0500000000001" r="0.45" fill="#cfe3fb"/>
<circle cx="863.3" cy="606.1500000000001" r="0.45" fill="#cfe3fb"/>
<circle cx="863.3" cy="608.2500000000001" r="0.45" fill="#cfe3fb"/>
<circle cx="865.3" cy="604.0500000000001" r="0.45" fill="#cfe3fb"/>
<circle cx="865.3" cy="606.1500000000001" r="0.45" fill="#cfe3fb"/>
<circle cx="865.3" cy="608.2500000000001" r="0.45" fill="#cfe3fb"/>
<circle cx="867.3" cy="604.0500000000001" r="0.45" fill="#cfe3fb"/>
<circle cx="867.3" cy="606.1500000000001" r="0.45" fill="#cfe3fb"/>
<circle cx="867.3" cy="608.2500000000001" r="0.45" fill="#cfe3fb"/>
</g>
<circle cx="889.1" cy="608.45" r="8.6" fill="#fff" stroke="#f0474f" stroke-width="1.3"/>
<clipPath id="f889"><circle cx="889.1" cy="608.45" r="7.0"/></clipPath><g clip-path="url(#f889)">
<rect x="881.6" y="602.25" width="15" height="1.8" fill="#ef4a4a"/>
<rect x="881.6" y="607.25" width="15" height="2.5" fill="#ef4a4a"/>
<rect x="881.6" y="612.1500000000001" width="15" height="2.9" fill="#ef4a4a"/>
<rect x="881.6" y="600.95" width="9.4" height="9.1" fill="#3f8fe8"/>
<circle cx="884.5" cy="604.0500000000001" r="0.45" fill="#cfe3fb"/>
<circle cx="884.5" cy="606.1500000000001" r="0.45" fill="#cfe3fb"/>
<circle cx="884.5" cy="608.2500000000001" r="0.45" fill="#cfe3fb"/>
<circle cx="886.5" cy="604.0500000000001" r="0.45" fill="#cfe3fb"/>
<circle cx="886.5" cy="606.1500000000001" r="0.45" fill="#cfe3fb"/>
<circle cx="886.5" cy="608.2500000000001" r="0.45" fill="#cfe3fb"/>
<circle cx="888.5" cy="604.0500000000001" r="0.45" fill="#cfe3fb"/>
<circle cx="888.5" cy="606.1500000000001" r="0.45" fill="#cfe3fb"/>
<circle cx="888.5" cy="608.2500000000001" r="0.45" fill="#cfe3fb"/>
</g>
<circle cx="917.3" cy="608.45" r="8.6" fill="#fff" stroke="#f0474f" stroke-width="1.3"/>
<clipPath id="f917"><circle cx="917.3" cy="608.45" r="7.0"/></clipPath><g clip-path="url(#f917)">
<rect x="909.8" y="602.25" width="15" height="1.8" fill="#ef4a4a"/>
<rect x="909.8" y="607.25" width="15" height="2.5" fill="#ef4a4a"/>
<rect x="909.8" y="612.1500000000001" width="15" height="2.9" fill="#ef4a4a"/>
<rect x="909.8" y="600.95" width="9.4" height="9.1" fill="#3f8fe8"/>
<circle cx="912.6999999999999" cy="604.0500000000001" r="0.45" fill="#cfe3fb"/>
<circle cx="912.6999999999999" cy="606.1500000000001" r="0.45" fill="#cfe3fb"/>
<circle cx="912.6999999999999" cy="608.2500000000001" r="0.45" fill="#cfe3fb"/>
<circle cx="914.6999999999999" cy="604.0500000000001" r="0.45" fill="#cfe3fb"/>
<circle cx="914.6999999999999" cy="606.1500000000001" r="0.45" fill="#cfe3fb"/>
<circle cx="914.6999999999999" cy="608.2500000000001" r="0.45" fill="#cfe3fb"/>
<circle cx="916.6999999999999" cy="604.0500000000001" r="0.45" fill="#cfe3fb"/>
<circle cx="916.6999999999999" cy="606.1500000000001" r="0.45" fill="#cfe3fb"/>
<circle cx="916.6999999999999" cy="608.2500000000001" r="0.45" fill="#cfe3fb"/>
</g>
<path d="M827.6 606.9A8 8 0 0 1 837.9 601.2M843.1 606.7A8 8 0 0 1 829.7 614.5" fill="none" stroke="#a440c8" stroke-width="1.4" stroke-linecap="round"/>
<path d="M837.8 604.6L834.2 608.9L837.1 608.9L833.2 613.2" fill="none" stroke="#9a2bbd" stroke-width="1.5" stroke-linejoin="round" stroke-linecap="round"/>
<path d="M826.2 607.5Q826.9 611.2 830.6 611.9Q826.9 612.6 826.2 616.3Q825.5 612.6 821.8 611.9Q825.5 611.2 826.2 607.5Z" fill="#7a4cf5"/>
<circle cx="840.9" cy="603.3" r="2.15" fill="#f23645"/>
<path d="M10 662H19.9V674.4H14.9V666.7H10Z" fill="#131722"/>
<circle cx="23.8" cy="664.6" r="2.2" fill="#131722"/>
<path d="M27.6 662H35L30.8 674.4H23.4Z" fill="#131722"/>
<text x="41.6" y="674.4" font-size="17.2" font-weight="bold" fill="#131722">TradingView</text>
</svg></body></html>
